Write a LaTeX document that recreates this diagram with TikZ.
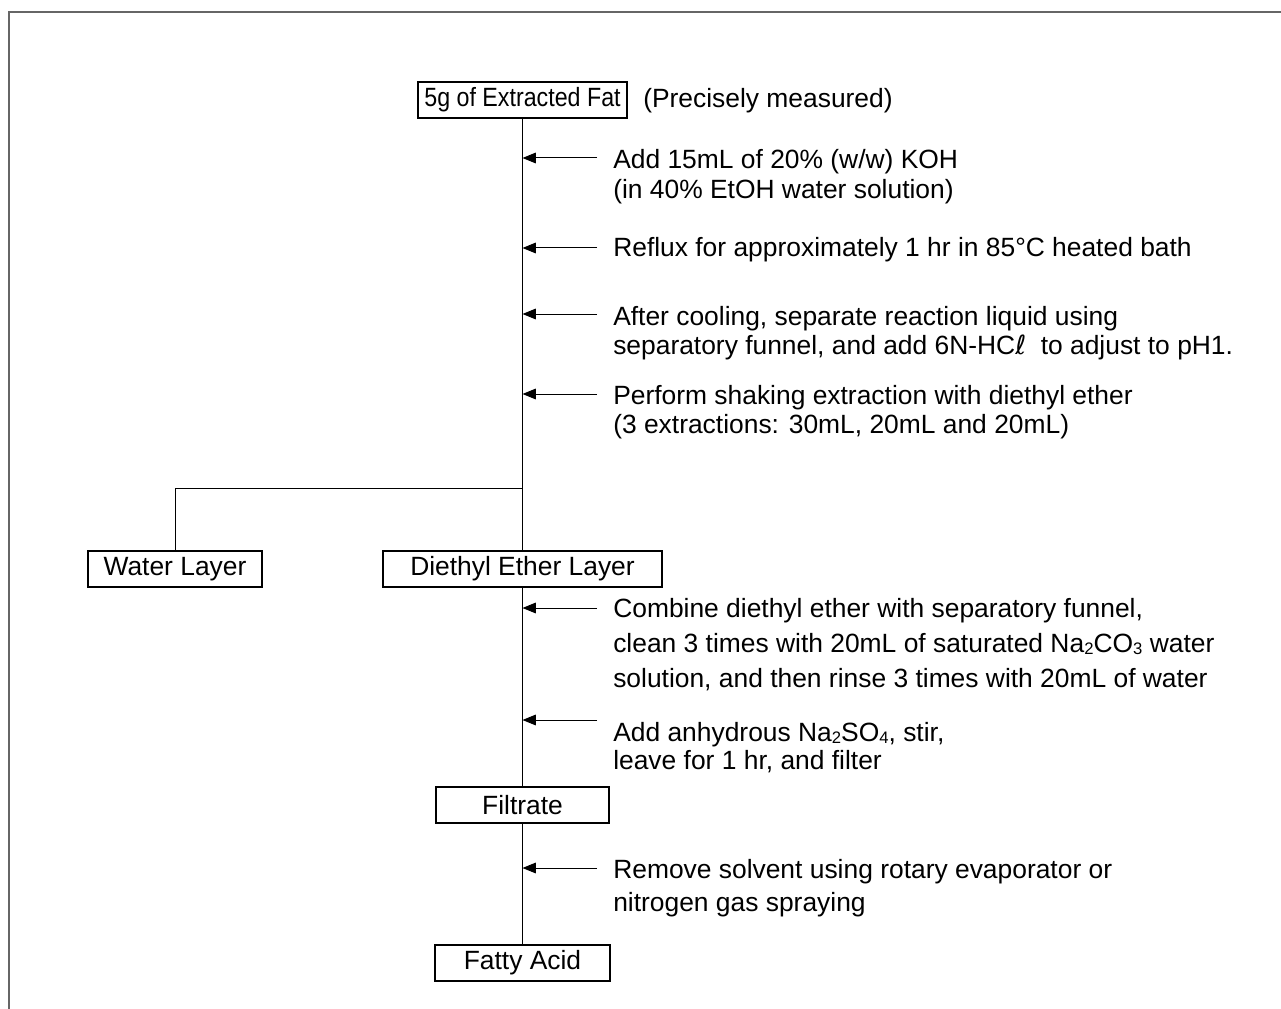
\documentclass[tikz,border=0pt]{standalone}
\usepackage{fontspec}
\setmainfont{Liberation Sans}
\newfontfamily\narrowfont{Liberation Sans}[FakeStretch=0.88]
\newfontfamily\dvfont{DejaVu Sans}
\usetikzlibrary{arrows.meta}
\newcommand{\chemsub}[1]{\raisebox{-0.15ex}{\fontsize{12.5}{12.5}\selectfont #1}}
\newcommand{\fs}[1]{\fontsize{19.8}{#1}\selectfont}
\begin{document}
\begin{tikzpicture}[x=0.75pt,y=-0.75pt,font=\fs{22.5},
  flow/.style={line width=0.75pt},
  thinbox/.style={draw, line width=0.9pt, minimum height=27pt, inner sep=0pt},
  thickbox/.style={draw, line width=2.2pt, minimum height=27pt, inner sep=0pt},
  note/.style={anchor=base west, align=left, inner sep=0pt},
  arr/.style={-{Triangle[length=10pt,width=8pt]}, line width=0.75pt},
  frame/.style={draw=black!60, line width=1.5pt}]
\useasboundingbox (0,0) rectangle (1281,1009);
% frame
\draw[frame] (9,1009) -- (9,12) -- (1281,12);

% boxes
\node[thickbox, minimum width=156.75pt, font=\narrowfont\fs{22.5}] (top) at (522.5,100) {5g of Extracted Fat};
\node[note] (meas) at (643,108) {(Precisely measured)};
\node[thinbox, minimum width=130.5pt] (water) at (175,569) {Water Layer};
\node[thinbox, minimum width=209.25pt] (ether) at (522.5,569) {Diethyl Ether Layer};
\node[thinbox, minimum width=129.75pt] (filt) at (522.5,805) {Filtrate};
\node[thickbox, minimum width=131.25pt] (fatty) at (522.5,963) {Fatty Acid};

% main lines
\draw[flow] (top) -- (ether);
\coordinate (br) at (522.5,488);
\draw[flow] (br) -| (water);
\draw[flow] (ether) -- (filt);
\draw[flow] (filt) -- (fatty);

% notes and arrows (note anchors sit on the last line's baseline)
\coordinate (a1) at (597,158);
\coordinate (a2) at (597,248);
\coordinate (a3) at (597,314);
\coordinate (a4) at (597,394);
\coordinate (a5) at (597,608);
\coordinate (a6) at (597,720);
\coordinate (a7) at (597,868);

\node[note, font=\fs{22.5}] (n1) at (613,199) {Add 15mL of 20\% (w/w) KOH\\(in 40\% EtOH water solution)};
\node[note] (n2) at (613,257) {Reflux for approximately 1 hr in 85°C heated bath};
\node[note, font=\fs{21.75}] (n3) at (613,354) {After cooling, separate reaction liquid using\\separatory funnel, and add 6N-HC{\dvfont ℓ}\hspace{0.55em}to adjust to pH1.};
\node[note, font=\fs{21.75}] (n4) at (613,433) {Perform shaking extraction with diethyl ether\\(3 extractions: 30mL, 20mL and 20mL)};
\node[note, font=\fs{25.9}] (n5) at (613,687) {Combine diethyl ether with separatory funnel,\\clean 3 times with 20mL of saturated Na\chemsub{2}CO\chemsub{3} water\\solution, and then rinse 3 times with 20mL of water};
\node[note, font=\fs{21}] (n6) at (613,769) {Add anhydrous Na\chemsub{2}SO\chemsub{4}, stir,\\leave for 1 hr, and filter};
\node[note, font=\fs{24.75}] (n7) at (613,911) {Remove solvent using rotary evaporator or\\nitrogen gas spraying};

\draw[arr] (a1) -- (a1 -| top.south);
\draw[arr] (a2) -- (a2 -| top.south);
\draw[arr] (a3) -- (a3 -| top.south);
\draw[arr] (a4) -- (a4 -| top.south);
\draw[arr] (a5) -- (a5 -| ether.south);
\draw[arr] (a6) -- (a6 -| ether.south);
\draw[arr] (a7) -- (a7 -| filt.south);
\end{tikzpicture}
\end{document}
